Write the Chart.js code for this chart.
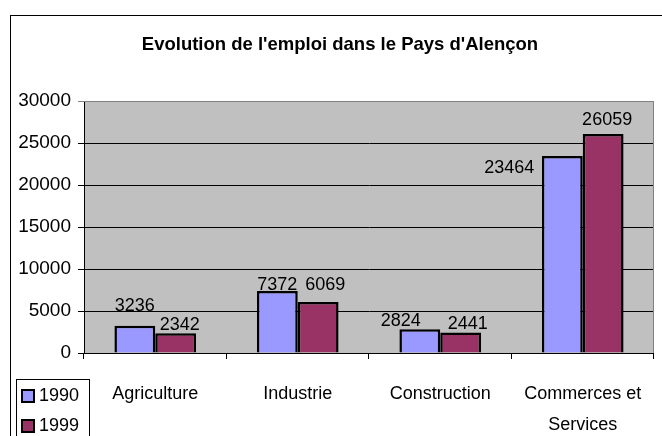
<!DOCTYPE html>
<html>
<head>
<meta charset="utf-8">
<script src="https://cdn.jsdelivr.net/npm/chart.js@4.4.0/dist/chart.umd.min.js"></script>
<style>
  html, body { margin: 0; padding: 0; background: #ffffff; }
  #c { display: block; }
</style>
</head>
<body>
<canvas id="c" width="662" height="436"></canvas>
<script>
// ---- data ----
const chartTitle = "Evolution de l'emploi dans le Pays d'Alençon";
const categories = ['Agriculture', 'Industrie', 'Construction', ['Commerces et', 'Services']];
const seriesNames = ['1990', '1999'];
const values1990 = [3236, 7372, 2824, 23464];
const values1999 = [2342, 6069, 2441, 26059];
const yMin = 0, yMax = 30000, yStep = 5000;

// ---- styles ----
const FONT = "'Liberation Sans', Arial, sans-serif";
const colors = ['#9999FF', '#993366'];

// label nudges (dx, dy) relative to default position above each bar
const labelNudges = [
  [[0, -12], [0, 2], [-19, 0], [-53, 20]],
  [[4, 0], [7, -9], [7, 0], [4, -6]]
];

const framePlugin = {
  id: 'frame',
  beforeDraw(chart) {
    const ctx = chart.ctx, a = chart.chartArea;
    ctx.save();
    ctx.fillStyle = '#ffffff';
    ctx.fillRect(0, 0, chart.width, chart.height);
    ctx.strokeStyle = '#000000';
    ctx.lineWidth = 1;
    ctx.strokeRect(10.5, 15.5, chart.width + 20, chart.height + 20);
    ctx.fillStyle = '#C0C0C0';
    ctx.fillRect(a.left, a.top, a.right - a.left, a.bottom - a.top);
    ctx.fillStyle = '#000000';
    ctx.font = 'bold 18.5px ' + FONT;
    ctx.textAlign = 'center';
    ctx.textBaseline = 'middle';
    ctx.fillText(chartTitle, 340, 45);
    ctx.restore();
  },
  afterDatasetsDraw(chart) {
    const ctx = chart.ctx, a = chart.chartArea;
    ctx.save();
    // plot area border (top / right)
    ctx.strokeStyle = '#808080';
    ctx.lineWidth = 1;
    ctx.beginPath();
    ctx.moveTo(a.left, a.top + 0.5);
    ctx.lineTo(a.right - 0.5, a.top + 0.5);
    ctx.lineTo(a.right - 0.5, a.bottom);
    ctx.stroke();
    // data labels
    ctx.fillStyle = '#000000';
    ctx.font = '18px ' + FONT;
    ctx.textAlign = 'center';
    ctx.textBaseline = 'alphabetic';
    chart.data.datasets.forEach((ds, di) => {
      const meta = chart.getDatasetMeta(di);
      meta.data.forEach((bar, i) => {
        const n = labelNudges[di][i];
        ctx.fillText(String(ds.data[i]), bar.x + n[0], bar.y - 3 + n[1]);
      });
    });
    // legend
    ctx.strokeStyle = '#000000';
    ctx.strokeRect(16.5, 379.5, 73, 80);
    chart.data.datasets.forEach((ds, di) => {
      const cy = 396 + di * 30;
      ctx.fillStyle = ds.backgroundColor;
      ctx.fillRect(22, cy - 6, 12, 12);
      ctx.lineWidth = 2;
      ctx.strokeStyle = '#000000';
      ctx.strokeRect(22, cy - 6, 12, 12);
      ctx.lineWidth = 1;
      ctx.fillStyle = '#000000';
      ctx.textAlign = 'left';
      ctx.textBaseline = 'middle';
      ctx.fillText(ds.label, 39, cy);
    });
    ctx.restore();
  }
};

new Chart(document.getElementById('c'), {
  type: 'bar',
  data: {
    labels: categories,
    datasets: [
      { label: seriesNames[0], data: values1990, backgroundColor: colors[0], borderColor: '#000000', borderWidth: 2.5 },
      { label: seriesNames[1], data: values1999, backgroundColor: colors[1], borderColor: '#000000', borderWidth: 2.5 }
    ]
  },
  options: {
    responsive: false,
    devicePixelRatio: 1,
    animation: false,
    layout: { padding: { top: 101, right: 6, bottom: 0, left: 0 } },
    datasets: { bar: { categoryPercentage: 0.573, barPercentage: 1.0 } },
    plugins: {
      legend: { display: false },
      title: { display: false },
      tooltip: { enabled: false }
    },
    scales: {
      x: {
        afterFit(scale) { scale.height = 83; },
        grid: { display: true, drawOnChartArea: false, drawTicks: true, tickLength: 6, color: '#000000' },
        border: { display: true, color: '#000000', width: 1 },
        ticks: { color: '#000000', font: { family: FONT, size: 18, lineHeight: 1.7 }, padding: 20, maxRotation: 0, autoSkip: false }
      },
      y: {
        min: yMin, max: yMax,
        afterFit(scale) { scale.width = 84; },
        grid: {
          color: (c) => (c.tick && c.tick.value === yMax) ? '#808080' : '#000000',
          lineWidth: 1, tickLength: 6, drawTicks: true
        },
        border: { display: true, color: '#000000', width: 1 },
        ticks: { stepSize: yStep, color: '#000000', font: { family: FONT, size: 19 }, padding: 7,
                 callback: (v) => String(v) }
      }
    }
  },
  plugins: [framePlugin]
});
</script>
</body>
</html>
